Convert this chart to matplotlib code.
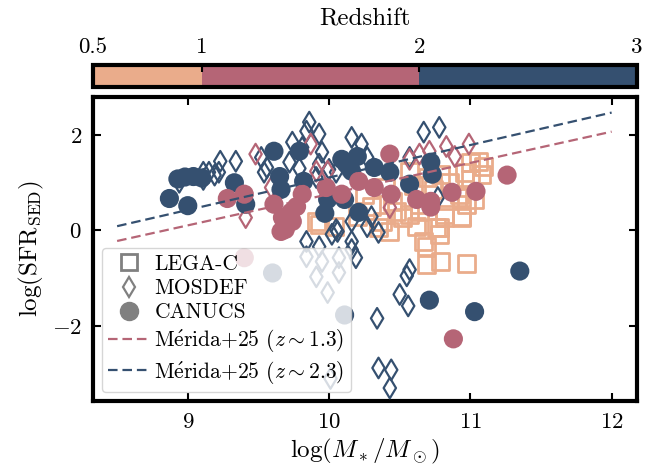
import numpy as np
import matplotlib
matplotlib.use("Agg")
import matplotlib.pyplot as plt
from matplotlib.colors import ListedColormap, BoundaryNorm
from matplotlib.cm import ScalarMappable
from matplotlib.lines import Line2D

plt.rcParams["font.family"] = ["cmr10", "DejaVu Serif"]
plt.rcParams["mathtext.fontset"] = "cm"
plt.rcParams["axes.formatter.use_mathtext"] = True
plt.rcParams["axes.unicode_minus"] = False

# redshift bins and colours
z_bounds = [0.5, 1, 2, 3]
z_colors = ["#eaac8b", "#b56576", "#355070"]

# LEGA-C (z ~ 0.5-1)
legac_mass = [9.93, 9.91, 10.04, 10.43, 10.69, 10.78, 10.69, 10.79, 10.97, 10.94,
              10.82, 10.57, 10.48, 10.38, 10.64, 10.67, 10.62, 10.76, 10.78, 10.35,
              10.52, 10.64, 10.82, 10.94, 10.74, 10.79, 10.92, 10.97, 11.03, 11.0,
              11.08, 11.09, 10.96, 11.0, 11.06, 10.94, 10.57, 10.3, 10.2, 10.45,
              10.85, 10.6, 10.4, 10.7, 10.25]
legac_sfr = [0.13, 0.19, 0.08, -0.02, -0.34, 0.06, -0.71, -0.65, -0.69, 0.29,
             0.34, 0.34, 0.4, 0.19, 0.55, -0.23, 0.08, 0.06, -0.08, 0.06,
             0.27, 0.4, 0.27, 0.27, 0.86, 1.18, 0.76, 0.55, 0.65, 1.07,
             1.18, 1.34, 1.22, 1.43, 1.45, 0.69, 1.24, 0.5, 0.3, 0.6,
             1.0, 0.95, 0.9, 1.1, 0.75]
legac_z = [0.75] * len(legac_mass)

# MOSDEF: first 57 at z~2.3, last 13 at z~1.5
mosdef_mass = [9.86, 9.84, 9.93, 9.81, 9.74, 9.95, 9.52, 9.56, 9.54, 9.34,
               9.23, 9.22, 9.19, 9.15, 8.94, 9.11, 9.11, 9.72, 9.79, 9.93,
               9.91, 10.0, 10.05, 10.16, 10.23, 10.27, 10.67, 10.78, 10.57,
               9.84, 9.93, 10.06, 10.16, 10.19, 10.05, 10.02, 10.16, 10.3, 10.27,
               10.35, 10.77, 10.57, 10.55, 10.5, 10.56, 10.34, 10.35, 10.44, 10.43,
               9.84, 9.95, 10.07, 10.16, 9.91, 9.99, 10.07, 10.01,
               9.48, 9.87, 9.41, 9.99, 9.59, 10.83, 10.89, 10.99, 10.64, 10.57,
               10.43, 9.91, 10.71]
mosdef_sfr = [2.27, 2.08, 2.02, 1.74, 1.85, 1.64, 1.53, 1.32, 1.22, 1.45,
              1.45, 1.22, 1.16, 1.22, 1.01, 1.07, 1.22, 1.43, 1.3, 1.39,
              1.11, 1.28, 1.22, 1.95, 1.81, 1.53, 2.06, 2.16, 1.53,
              -0.23, -0.34, -0.02, -0.23, -0.57, 0.02, -0.08, 0.19, 0.29, 0.08,
              -0.04, 0.69, -0.82, -0.95, -1.34, -1.58, -1.84, -2.88, -2.92, -3.3,
              -0.55, -0.65, -0.57, -0.4, -0.97, -1.3, -0.88, -3.1,
              1.6, 1.81, 0.27, 1.24, 0.9, 1.76, 1.55, 1.81, 1.6, 1.49,
              0.48, 1.24, 1.66]
mosdef_z = [2.3] * 57 + [1.5] * 13

# CANUCS: first 31 at z~2.5, last 24 at z~1.5
canucs_mass = [8.87, 9.0, 8.93, 8.98, 9.04, 9.1, 9.33, 9.41, 9.61, 9.79,
               9.65, 9.66, 9.82, 9.97, 10.09, 10.16, 10.32, 10.43, 10.57, 10.72,
               10.73, 9.99, 10.11, 10.21, 10.12, 10.2, 11.35, 10.71, 11.03, 10.11,
               9.6,
               9.28, 9.4, 9.61, 9.67, 9.66, 9.74, 9.77, 9.81, 9.69, 9.73,
               10.43, 11.26, 10.87, 11.04, 10.72, 10.62, 10.44, 10.32, 10.21, 10.09,
               9.98, 10.72, 10.88, 9.4]
canucs_sfr = [0.67, 0.52, 1.08, 1.12, 1.13, 1.1, 1.0, 0.55, 1.66, 1.66,
              1.13, 0.86, 1.03, 0.36, 1.49, 1.24, 1.32, 1.22, 0.97, 1.43,
              1.18, 0.65, 0.65, 0.38, 1.4, 1.55, -0.85, -1.46, -1.70, -1.77,
              -0.89,
              0.67, 0.76, 0.55, 0.27, -0.02, 0.19, 0.5, 0.76, 0.02, 0.38,
              1.6, 1.16, 0.8, 0.82, 0.49, 0.65, 0.76, 0.9, 1.03, 0.76,
              0.9, 0.61, -2.27, -0.57]
canucs_z = [2.5] * 31 + [1.5] * 24

# Merida+25 main sequence
merida_mass = [8.5, 12.0]
merida_z13 = [-0.22, 2.07]
merida_z23 = [0.09, 2.47]

cmap = ListedColormap(z_colors)
norm = BoundaryNorm(z_bounds, cmap.N)
dash = (4.3, 2.2)

fig = plt.figure(figsize=(6.65, 4.7), dpi=100)
ax = fig.add_axes([0.140, 0.147, 0.818, 0.647])
cax = fig.add_axes([0.140, 0.815, 0.818, 0.047])

ax.scatter(legac_mass, legac_sfr, marker="s", s=150, facecolors="none",
           edgecolors=cmap(norm(legac_z)), linewidths=2.0, zorder=2)
ax.scatter(mosdef_mass, mosdef_sfr, marker="d", s=110, facecolors="none",
           edgecolors=cmap(norm(mosdef_z)), linewidths=1.6, zorder=3)
ax.scatter(canucs_mass, canucs_sfr, marker="o", s=190,
           c=cmap(norm(canucs_z)), edgecolors="none", zorder=4)

ax.plot(merida_mass, merida_z13, ls="--", dashes=dash, lw=1.6,
        color=z_colors[1], zorder=5)
ax.plot(merida_mass, merida_z23, ls="--", dashes=dash, lw=1.6,
        color=z_colors[2], zorder=5)

ax.set_xlim(8.33, 12.18)
ax.set_ylim(-3.57, 2.8)
ax.set_xticks([9, 10, 11, 12])
ax.set_yticks([-2, 0, 2])
ax.tick_params(direction="in", top=True, right=True, length=6, width=1.5,
               labelsize=16.5, pad=8)
for sp in ax.spines.values():
    sp.set_linewidth(3)
ax.set_xlabel(r"$\log(M_*/M_\odot)$", fontsize=18)
ax.set_ylabel(r"$\log(\mathrm{SFR_{SED}})$", fontsize=18)

handles = [
    Line2D([], [], marker="s", ls="none", markersize=12, markerfacecolor="none",
           markeredgecolor="gray", markeredgewidth=2),
    Line2D([], [], marker="d", ls="none", markersize=10, markerfacecolor="none",
           markeredgecolor="gray", markeredgewidth=1.6),
    Line2D([], [], marker="o", ls="none", markersize=13, color="gray"),
    Line2D([], [], ls="--", dashes=dash, lw=1.6, color=z_colors[1]),
    Line2D([], [], ls="--", dashes=dash, lw=1.6, color=z_colors[2]),
]
labels = ["LEGA-C", "MOSDEF", "CANUCS",
          r"M$\mathrm{\acute{e}}$rida+25 ($z\sim1.3$)",
          r"M$\mathrm{\acute{e}}$rida+25 ($z\sim2.3$)"]
leg = ax.legend(handles, labels, loc="lower left", fontsize=15.5, framealpha=0.8,
                handlelength=1.9, handletextpad=0.25, labelspacing=0.22,
                borderpad=0.3, borderaxespad=0.4)
leg.set_zorder(10)

cb = fig.colorbar(ScalarMappable(norm=norm, cmap=cmap), cax=cax,
                  orientation="horizontal", spacing="proportional",
                  ticks=[0.5, 1, 2, 3])
cb.ax.set_xticklabels(["0.5", "1", "2", "3"])
cax.xaxis.set_ticks_position("top")
cax.xaxis.set_label_position("top")
cax.tick_params(direction="in", length=5, width=1.5, labelsize=16.5, pad=6)
cb.outline.set_linewidth(3)
cb.set_label("Redshift", fontsize=18, labelpad=8)

fig.savefig("out.png", dpi=100)
